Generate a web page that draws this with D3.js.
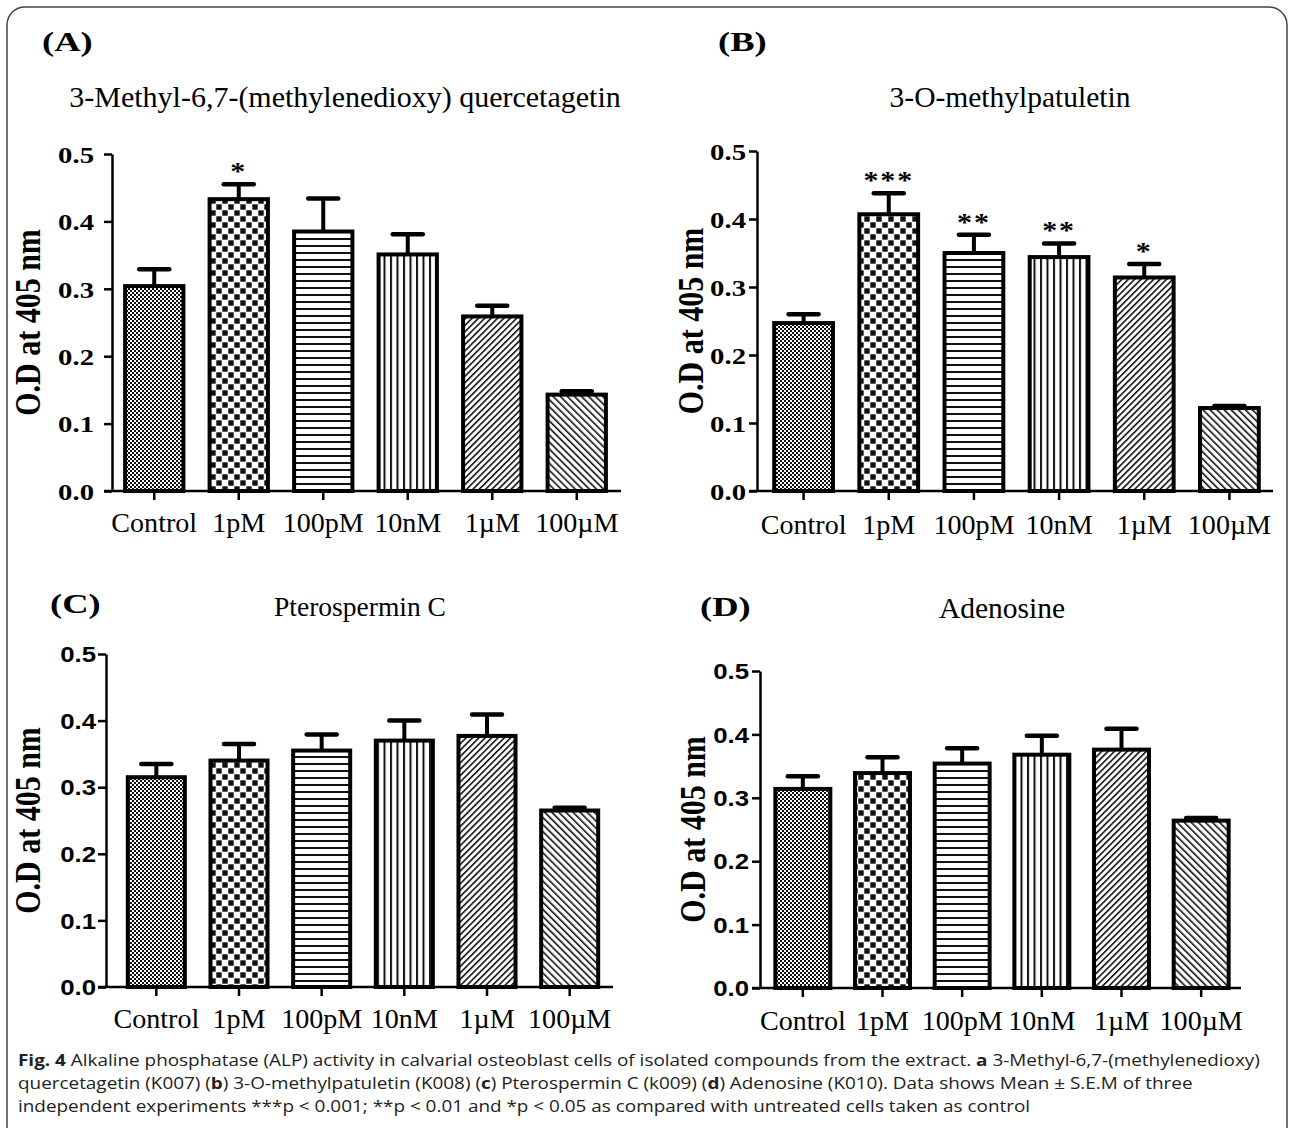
<!DOCTYPE html>
<html>
<head>
<meta charset="utf-8">
<script src="https://cdn.jsdelivr.net/npm/d3@7"></script>
<style>
  body { margin: 0; background: #fff; }
  svg { display: block; }
</style>
</head>
<body>
<div id="chart"></div>
<script>
// categories shared by every panel
const categories = ["Control", "1pM", "100pM", "10nM", "1\u00b5M", "100\u00b5M"];
const yTicks = [0, 0.1, 0.2, 0.3, 0.4, 0.5];

// panel A - 3-Methyl-6,7-(methylenedioxy) quercetagetin
const meanA = [0.304, 0.433, 0.385, 0.351, 0.259, 0.143];
const semA  = [0.025, 0.022, 0.049, 0.030, 0.016, 0.005];
const starA = ["", "*", "", "", "", ""];

// panel B - 3-O-methylpatuletin
const meanB = [0.247, 0.407, 0.350, 0.344, 0.314, 0.122];
const semB  = [0.013, 0.031, 0.027, 0.020, 0.020, 0.003];
const starB = ["", "***", "**", "**", "*", ""];

// panel C - Pterospermin C
const meanC = [0.315, 0.340, 0.355, 0.370, 0.377, 0.265];
const semC  = [0.020, 0.025, 0.024, 0.030, 0.032, 0.004];

// panel D - Adenosine
const meanD = [0.314, 0.339, 0.354, 0.368, 0.376, 0.264];
const semD  = [0.020, 0.025, 0.024, 0.030, 0.033, 0.004];

const W = 1293, H = 1128;
const SERIF = "Liberation Serif, Times New Roman, serif";
const SANS = "Liberation Sans, Arial, sans-serif";

const svg = d3.select("#chart").append("svg")
  .attr("width", W)
  .attr("height", H);

svg.append("rect")
  .attr("x", 7).attr("y", 7)
  .attr("width", 1280).attr("height", 1150)
  .attr("rx", 18)
  .attr("fill", "#fff")
  .attr("stroke", "#444")
  .attr("stroke-width", 1.5);

// fill patterns, one per concentration
const defs = svg.append("defs");

function pat(id, w, h, rot) {
  const p = defs.append("pattern")
    .attr("id", id)
    .attr("patternUnits", "userSpaceOnUse")
    .attr("width", w).attr("height", h);
  if (rot) p.attr("patternTransform", "rotate(" + rot + ")");
  p.append("rect").attr("width", w).attr("height", h).attr("fill", "#fff");
  return p;
}

let p = pat("p0", 4, 4);
p.append("rect").attr("x", 0).attr("y", 0).attr("width", 2).attr("height", 2).attr("fill", "#111");
p.append("rect").attr("x", 2).attr("y", 2).attr("width", 2).attr("height", 2).attr("fill", "#111");

p = pat("p1", 12, 12);
p.append("rect").attr("x", 0.3).attr("y", 0.3).attr("width", 5.4).attr("height", 5.4).attr("fill", "#111");
p.append("rect").attr("x", 6.3).attr("y", 6.3).attr("width", 5.4).attr("height", 5.4).attr("fill", "#111");

p = pat("p2", 10, 7);
p.append("rect").attr("x", 0).attr("y", 0).attr("width", 10).attr("height", 2).attr("fill", "#111");

p = pat("p3", 6.5, 10);
p.append("rect").attr("x", 0).attr("y", 0).attr("width", 2).attr("height", 10).attr("fill", "#111");

p = pat("p4", 4.5, 10, 45);
p.append("rect").attr("x", 0).attr("y", 0).attr("width", 1.6).attr("height", 10).attr("fill", "#111");

p = pat("p5", 5, 10, -45);
p.append("rect").attr("x", 0).attr("y", 0).attr("width", 1.6).attr("height", 10).attr("fill", "#111");

const fills = ["p0", "p1", "p2", "p3", "p4", "p5"];

const panels = [
  { tag: "(A)", tagX: 42, tagY: 51, title: "3-Methyl-6,7-(methylenedioxy) quercetagetin", titleX: 345, titleY: 107, titleSize: 30,
    mean: meanA, sem: semA, star: starA, axisX: 112, x0: 112, x1: 619, xEnd: 621, y0: 491, y1: 154,
    labX: 27, sans: false, catY: 532, tickOff: 18 },
  { tag: "(B)", tagX: 718, tagY: 51, title: "3-O-methylpatuletin", titleX: 1010, titleY: 107, titleSize: 29.5,
    mean: meanB, sem: semB, star: starB, axisX: 757, x0: 761, x1: 1272, xEnd: 1273, y0: 491, y1: 151,
    labX: 690, sans: false, catY: 534, tickOff: 11 },
  { tag: "(C)", tagX: 50, tagY: 613, title: "Pterospermin C", titleX: 360, titleY: 616, titleSize: 27.5,
    mean: meanC, sem: semC, star: null, axisX: 106, x0: 115, x1: 611, xEnd: 613, y0: 987, y1: 654,
    labX: 27, sans: true, catY: 1028, tickOff: 10 },
  { tag: "(D)", tagX: 700, tagY: 616, title: "Adenosine", titleX: 1002, titleY: 618, titleSize: 29.5,
    mean: meanD, sem: semD, star: null, axisX: 760, x0: 763, x1: 1241, xEnd: 1241, y0: 988, y1: 671,
    labX: 692, sans: true, catY: 1030, tickOff: 11 }
];

panels.forEach(function(cfg) {
  const g = svg.append("g");

  const x = d3.scaleBand()
    .domain(categories)
    .range([cfg.x0, cfg.x1])
    .paddingInner(0.31)
    .paddingOuter(0.155);

  const y = d3.scaleLinear()
    .domain([0, 0.5])
    .range([cfg.y0, cfg.y1]);

  const cx = d => x(d) + x.bandwidth() / 2;

  g.append("text")
    .attr("font-family", SERIF)
    .attr("transform", "translate(" + cfg.tagX + "," + cfg.tagY + ") scale(1.35,1)")
    .attr("font-size", 27).attr("font-weight", "bold")
    .text(cfg.tag);

  g.append("text")
    .attr("font-family", SERIF)
    .attr("x", cfg.titleX).attr("y", cfg.titleY)
    .attr("text-anchor", "middle")
    .attr("font-size", cfg.titleSize)
    .text(cfg.title);

  // bars
  const bars = g.selectAll(".bar")
    .data(cfg.mean)
    .enter().append("g");

  bars.append("line")
    .attr("x1", (d, i) => cx(categories[i]))
    .attr("x2", (d, i) => cx(categories[i]))
    .attr("y1", d => y(d))
    .attr("y2", (d, i) => y(d + cfg.sem[i]))
    .attr("stroke", "#000").attr("stroke-width", 4);

  bars.append("line")
    .attr("x1", (d, i) => cx(categories[i]) - 15)
    .attr("x2", (d, i) => cx(categories[i]) + 15)
    .attr("y1", (d, i) => y(d + cfg.sem[i]))
    .attr("y2", (d, i) => y(d + cfg.sem[i]))
    .attr("stroke", "#000").attr("stroke-width", 4.5)
    .attr("stroke-linecap", "round");

  bars.append("rect")
    .attr("x", (d, i) => x(categories[i]))
    .attr("y", d => y(d))
    .attr("width", x.bandwidth())
    .attr("height", d => y(0) - y(d))
    .attr("fill", (d, i) => "url(#" + fills[i] + ")")
    .attr("stroke", "#000")
    .attr("stroke-width", 4);

  if (cfg.star) {
    bars.append("text")
      .attr("font-family", SERIF)
      .attr("transform", (d, i) => "translate(" + cx(categories[i]) + "," + (y(d + cfg.sem[i]) - 4) + ") scale(1.2,1)")
      .attr("text-anchor", "middle")
      .attr("font-size", 25).attr("font-weight", "bold")
      .attr("letter-spacing", 1.5)
      .text((d, i) => cfg.star[i]);
  }

  // y axis
  const tickSx = cfg.sans ? 1.2 : 1.25;
  const yAxis = d3.axisLeft(y)
    .tickValues(yTicks)
    .tickFormat(d3.format(".1f"))
    .tickSize(8)
    .tickSizeOuter(0);

  const ya = g.append("g")
    .attr("transform", "translate(" + cfg.axisX + ",0)")
    .call(yAxis);
  ya.select(".domain").attr("stroke-width", 2.5);
  ya.selectAll(".tick line").attr("stroke-width", 2.5);
  ya.selectAll(".tick text")
    .attr("x", -cfg.tickOff / tickSx)
    .attr("transform", "scale(" + tickSx + ",1)")
    .attr("font-size", cfg.sans ? 21.5 : 23)
    .attr("font-weight", "bold")
    .attr("fill", "#000")
    .attr("dy", "0.36em")
    .attr("font-family", cfg.sans ? SANS : SERIF);

  // x axis
  const xa = g.append("g")
    .attr("transform", "translate(0," + cfg.y0 + ")");
  xa.append("line")
    .attr("x1", cfg.axisX - 8).attr("x2", cfg.xEnd)
    .attr("stroke", "#000").attr("stroke-width", 2.5);
  xa.selectAll(".xt")
    .data(categories)
    .enter().append("line")
    .attr("x1", cx).attr("x2", cx)
    .attr("y1", 0).attr("y2", 9)
    .attr("stroke", "#000").attr("stroke-width", 2.5);

  g.selectAll(".cat")
    .data(categories)
    .enter().append("text")
    .attr("font-family", SERIF)
    .attr("transform", d => "translate(" + cx(d) + "," + cfg.catY + ") scale(1.04,1)")
    .attr("text-anchor", "middle")
    .attr("font-size", 27)
    .text(d => d);

  g.append("text")
    .attr("font-family", SERIF)
    .attr("transform", "translate(" + cfg.labX + "," + ((cfg.y0 + cfg.y1) / 2) + ") scale(1.2,1) rotate(-90)")
    .attr("text-anchor", "middle")
    .attr("dy", "0.35em")
    .attr("font-size", 30).attr("font-weight", "bold")
    .text("O.D at 405 nm");
});

// caption
const capLines = [
  [["Fig. 4", true], [" Alkaline phosphatase (ALP) activity in calvarial osteoblast cells of isolated compounds from the extract. ", false], ["a", true], [" 3-Methyl-6,7-(methylenedioxy)", false]],
  [["quercetagetin (K007) (", false], ["b", true], [") 3-O-methylpatuletin (K008) (", false], ["c", true], [") Pterospermin C (k009) (", false], ["d", true], [") Adenosine (K010). Data shows Mean \u00b1 S.E.M of three", false]],
  [["independent experiments ***p < 0.001; **p < 0.01 and *p < 0.05 as compared with untreated cells taken as control", false]]
];

const cap = svg.append("g");
const capTexts = capLines.map(function(line, li) {
  const t = cap.append("text")
    .attr("x", 0)
    .attr("y", 1066 + li * 23)
    .attr("font-family", "Open Sans, Noto Sans, sans-serif")
    .attr("font-size", 16)
    .attr("fill", "#222");
  line.forEach(function(seg) {
    t.append("tspan")
      .attr("font-weight", seg[1] ? "bold" : "normal")
      .text(seg[0]);
  });
  return t;
});
// condense the caption so the first line runs to the right border
const firstLen = capTexts[0].node().getComputedTextLength();
const capSx = 1243 / firstLen;
cap.attr("transform", "translate(18,0) scale(" + capSx + ",1)");
</script>
</body>
</html>
